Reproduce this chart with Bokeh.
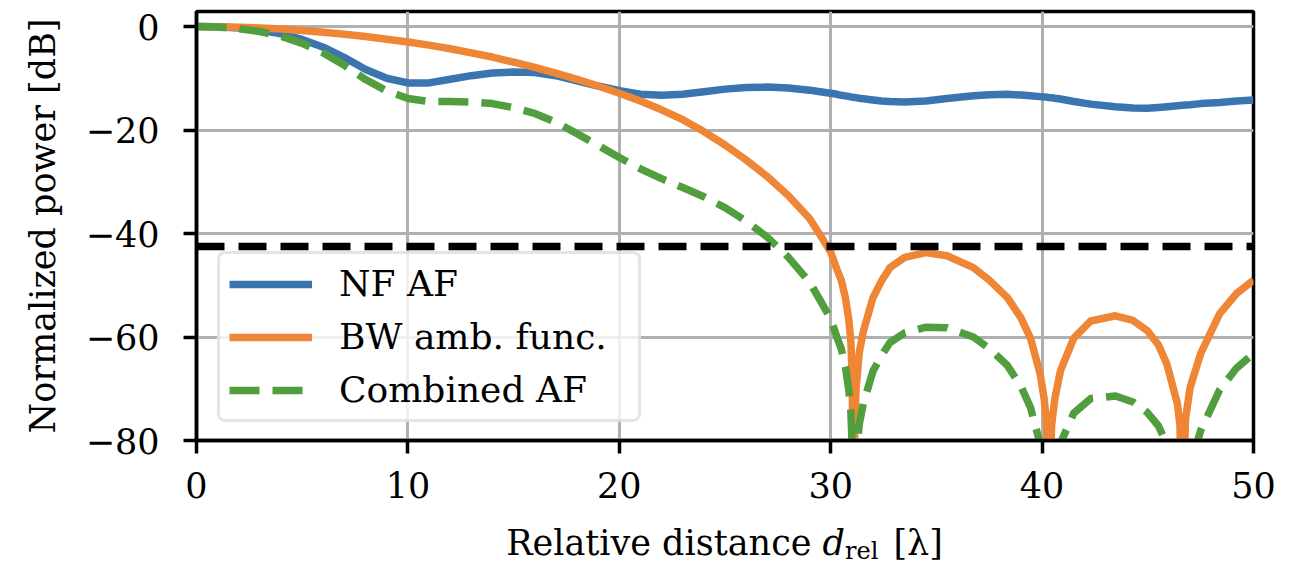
from bokeh.plotting import figure
from bokeh.models import Span, FixedTicker, Div
from bokeh.layouts import column
from bokeh.embed import file_html
from bokeh.resources import INLINE

# ---- data ----
x_rel = [0, 1, 2, 3, 4, 5, 6, 7, 8, 9, 10, 11, 12, 13, 14, 15, 16, 17, 18, 19,
         20, 21, 22, 23, 24, 25, 26, 27, 28, 29, 29.5, 30.0, 30.3, 30.5, 30.7, 30.85,
         30.95, 31.02, 31.08, 31.14, 31.2, 31.35, 31.55, 32.0, 32.4, 32.8, 33.5, 34.5,
         35.5, 36.75, 37.5, 38.36, 39.0, 39.45, 39.9, 40.1, 40.22, 40.3, 40.45, 40.6,
         40.87, 41.5, 42.3, 43.47, 44.3, 44.98, 45.5, 45.9, 46.4, 46.52, 46.64, 46.78,
         47.0, 47.5, 48.4, 49.2, 50.0]

nf_af = [0, -0.05, -0.3, -0.7, -1.4, -2.5, -4.0, -6.0, -8.3, -10.0, -10.9, -10.9,
         -10.2, -9.5, -9.0, -8.8, -8.9, -9.5, -10.5, -11.5, -12.4, -13.1, -13.3, -13.1,
         -12.6, -12.1, -11.8, -11.7, -11.9, -12.3, -12.6, -12.9, -13.1, -13.3, -13.4,
         -13.5, -13.6, -13.65, -13.7, -13.7, -13.75, -13.85, -13.95, -14.2, -14.4, -14.5,
         -14.6, -14.4, -13.9, -13.4, -13.2, -13.1, -13.25, -13.4, -13.55, -13.6, -13.65,
         -13.7, -13.75, -13.85, -14.0, -14.5, -15.0, -15.5, -15.75, -15.8, -15.65, -15.5,
         -15.3, -15.25, -15.2, -15.15, -15.1, -14.9, -14.7, -14.4, -14.2]

bw_amb = [0, -0.03, -0.12, -0.27, -0.48, -0.75, -1.1, -1.5, -1.95, -2.45, -3.0, -3.6,
          -4.3, -5.1, -5.9, -6.9, -7.9, -9.0, -10.2, -11.5, -12.9, -14.4, -16.1, -18.0,
          -20.3, -22.9, -25.8, -29.0, -32.7, -37.1, -40.3, -43.6, -47.0, -49.0, -52.5,
          -56.5, -60.5, -68.0, -100.0, -76.0, -70.0, -63.0, -58.8, -52.4, -49.2, -46.6,
          -44.6, -43.7, -44.3, -46.6, -49.0, -52.4, -56.3, -60.2, -67.0, -72.0, -77.0,
          -100.0, -77.0, -72.0, -66.5, -60.2, -56.9, -55.9, -56.8, -58.8, -61.5, -65.2,
          -72.9, -77.0, -100.0, -76.0, -69.8, -63.2, -55.5, -51.6, -49.0]

combined_af = [0, -0.08, -0.42, -0.97, -1.88, -3.25, -5.1, -7.5, -10.25, -12.45, -13.9,
               -14.5, -14.5, -14.6, -14.9, -15.7, -16.8, -18.5, -20.7, -23.0, -25.3,
               -27.5, -29.4, -31.1, -32.9, -35.0, -37.6, -40.7, -44.6, -49.4, -52.9,
               -56.5, -60.1, -62.3, -65.9, -70.0, -74.1, -81.65, -113.7, -89.7, -83.75,
               -76.85, -72.75, -66.6, -63.6, -61.1, -59.2, -58.1, -58.2, -60.0, -62.2,
               -65.5, -69.55, -73.6, -80.55, -85.6, -90.65, -113.7, -90.75, -85.85,
               -80.5, -74.7, -71.9, -71.4, -72.55, -74.6, -77.15, -80.7, -88.2, -92.25,
               -115.2, -91.15, -84.9, -78.1, -70.2, -66.0, -63.2]

threshold_db = -42.5

x_ticks = [0, 10, 20, 30, 40, 50]
y_ticks = [-80, -60, -40, -20, 0]
y_tick_labels = {-80: "\u221280", -60: "\u221260", -40: "\u221240", -20: "\u221220", 0: "0"}

series_labels = ["NF AF", "BW amb. func.", "Combined AF"]
series_colors = ["#3b75af", "#ef8636", "#519e3e"]

FONT = "DejaVu Serif"
FS = "35px"

p = figure(width=1294, height=510, output_backend="svg", toolbar_location=None,
           x_range=(0, 50), y_range=(-80, 2.9),
           min_border_left=196, min_border_right=41, min_border_top=11,
           min_border_bottom=70)
p.background_fill_color = "white"
p.border_fill_color = "white"
p.outline_line_color = "black"
p.outline_line_width = 3.5

p.xaxis.ticker = FixedTicker(ticks=x_ticks)
p.yaxis.ticker = FixedTicker(ticks=y_ticks)
p.xgrid.ticker = FixedTicker(ticks=x_ticks)
p.ygrid.ticker = FixedTicker(ticks=y_ticks)
p.grid.grid_line_color = "#b0b0b0"
p.grid.grid_line_width = 3

for ax in (p.xaxis, p.yaxis):
    ax.axis_line_width = 3.5
    ax.major_tick_line_width = 3.5
    ax.major_tick_out = 13
    ax.major_tick_in = 0
    ax.minor_tick_line_color = None
    ax.major_label_text_font = FONT
    ax.major_label_text_font_size = FS
    ax.major_label_text_color = "black"
    ax.axis_label_text_font = FONT
    ax.axis_label_text_font_size = FS
    ax.axis_label_text_font_style = "normal"
    ax.axis_label_text_color = "black"

p.yaxis.major_label_overrides = y_tick_labels
p.yaxis.major_label_standoff = 24
p.xaxis.major_label_standoff = 18
p.yaxis.axis_label = "Normalized power [dB]"
p.yaxis.axis_label_standoff = 20

p.line(x_rel, nf_af, line_color=series_colors[0], line_width=7.5, line_join="round",
       legend_label=series_labels[0])
p.line(x_rel, bw_amb, line_color=series_colors[1], line_width=7.5, line_join="round",
       legend_label=series_labels[1])
p.line(x_rel, combined_af, line_color=series_colors[2], line_width=7.5,
       line_join="round", line_dash="30 13", legend_label=series_labels[2])

p.add_layout(Span(location=threshold_db, dimension="width", line_color="black",
                  line_width=7.5, line_dash="28 14"))

lg = p.legend[0]
lg.location = (21, 18)
lg.label_text_font = FONT
lg.label_text_font_size = "36px"
lg.label_text_color = "black"
lg.glyph_width = 83
lg.glyph_height = 40
lg.label_height = 40
lg.label_width = 290
lg.label_standoff = 27
lg.spacing = 12
lg.padding = 9
lg.margin = 0
lg.border_line_color = "#cccccc"
lg.border_line_width = 3
lg.background_fill_color = "white"
lg.background_fill_alpha = 0.8
if "border_radius" in lg.properties():
    lg.border_radius = 8

xlabel = Div(
    text=('Relative distance <i>d</i><span style="font-size:24px;line-height:24px;'
          'position:relative;top:4px;">rel</span>'
          '<span style="margin-left:15px;">[\u03bb]</span>'),
    width=1057, height=58, margin=(0, 0, 0, 196),
    styles={"font-family": "'DejaVu Serif'", "font-size": "35px", "color": "black",
            "text-align": "center", "line-height": "66px", "white-space": "nowrap"})

layout = column(p, xlabel, spacing=0)
open("out.html", "w").write(file_html(layout, INLINE))
